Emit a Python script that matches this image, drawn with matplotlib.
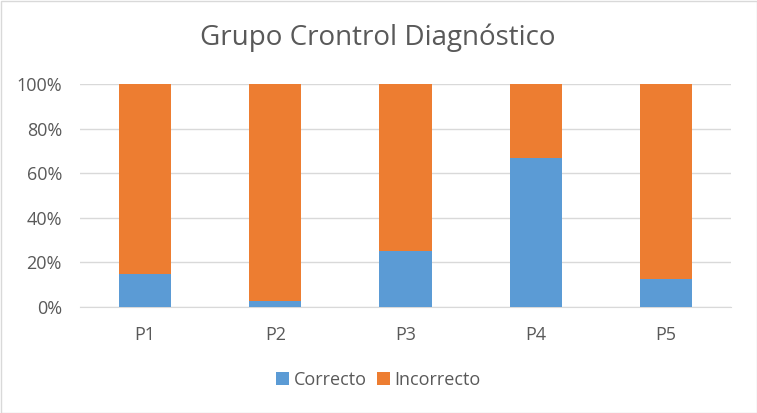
import matplotlib.pyplot as plt
from matplotlib.patches import Rectangle
from matplotlib.ticker import PercentFormatter

categories = ['P1', 'P2', 'P3', 'P4', 'P5']
correcto = [15.0, 2.7, 25.0, 67.0, 12.5]
incorrecto = [100 - v for v in correcto]

BLUE = '#5b9bd5'
ORANGE = '#ed7d31'
TXT = '#595959'

plt.rcParams['font.family'] = ['Open Sans', 'DejaVu Sans']

dpi = 100
fig = plt.figure(figsize=(757 / dpi, 413 / dpi), dpi=dpi)
ax = fig.add_axes([80 / 757, 1 - 307 / 413, (731 - 80) / 757, (307 - 84) / 413])

x = range(len(categories))
ax.bar(x, correcto, width=0.4, color=BLUE, label='Correcto', zorder=3)
ax.bar(x, incorrecto, width=0.4, bottom=correcto, color=ORANGE, label='Incorrecto', zorder=3)

ax.set_xlim(-0.5, len(categories) - 0.5)
ax.set_ylim(0, 100)
ax.set_yticks(range(0, 101, 20))
ax.yaxis.set_major_formatter(PercentFormatter(decimals=0))
ax.set_xticks(list(x))
ax.set_xticklabels(categories)
ax.grid(axis='y', color='#d9d9d9', linewidth=1, zorder=0)
for s in ['top', 'right', 'left']:
    ax.spines[s].set_visible(False)
ax.spines['bottom'].set_color('#d9d9d9')
ax.tick_params(length=0, colors=TXT, labelsize=13)
ax.tick_params(axis='x', pad=14)
ax.tick_params(axis='y', pad=13)

fig.text(378 / 757, 1 - 38 / 413, 'Grupo Crontrol Diagnóstico', ha='center', va='center',
         fontsize=20, color=TXT)

fig.legend(loc='center', bbox_to_anchor=(0.5, 1 - 380 / 413), ncol=2, frameon=False,
           fontsize=13, labelcolor=TXT, handlelength=0.7, handleheight=0.7,
           columnspacing=0.6, handletextpad=0.25)

fig.patches.append(Rectangle((0.5 / 757, 0.5 / 413), 1 - 1 / 757, 1 - 1 / 413,
                             transform=fig.transFigure, fill=False,
                             edgecolor='#d9d9d9', linewidth=1))

fig.savefig('out.png', dpi=dpi)
